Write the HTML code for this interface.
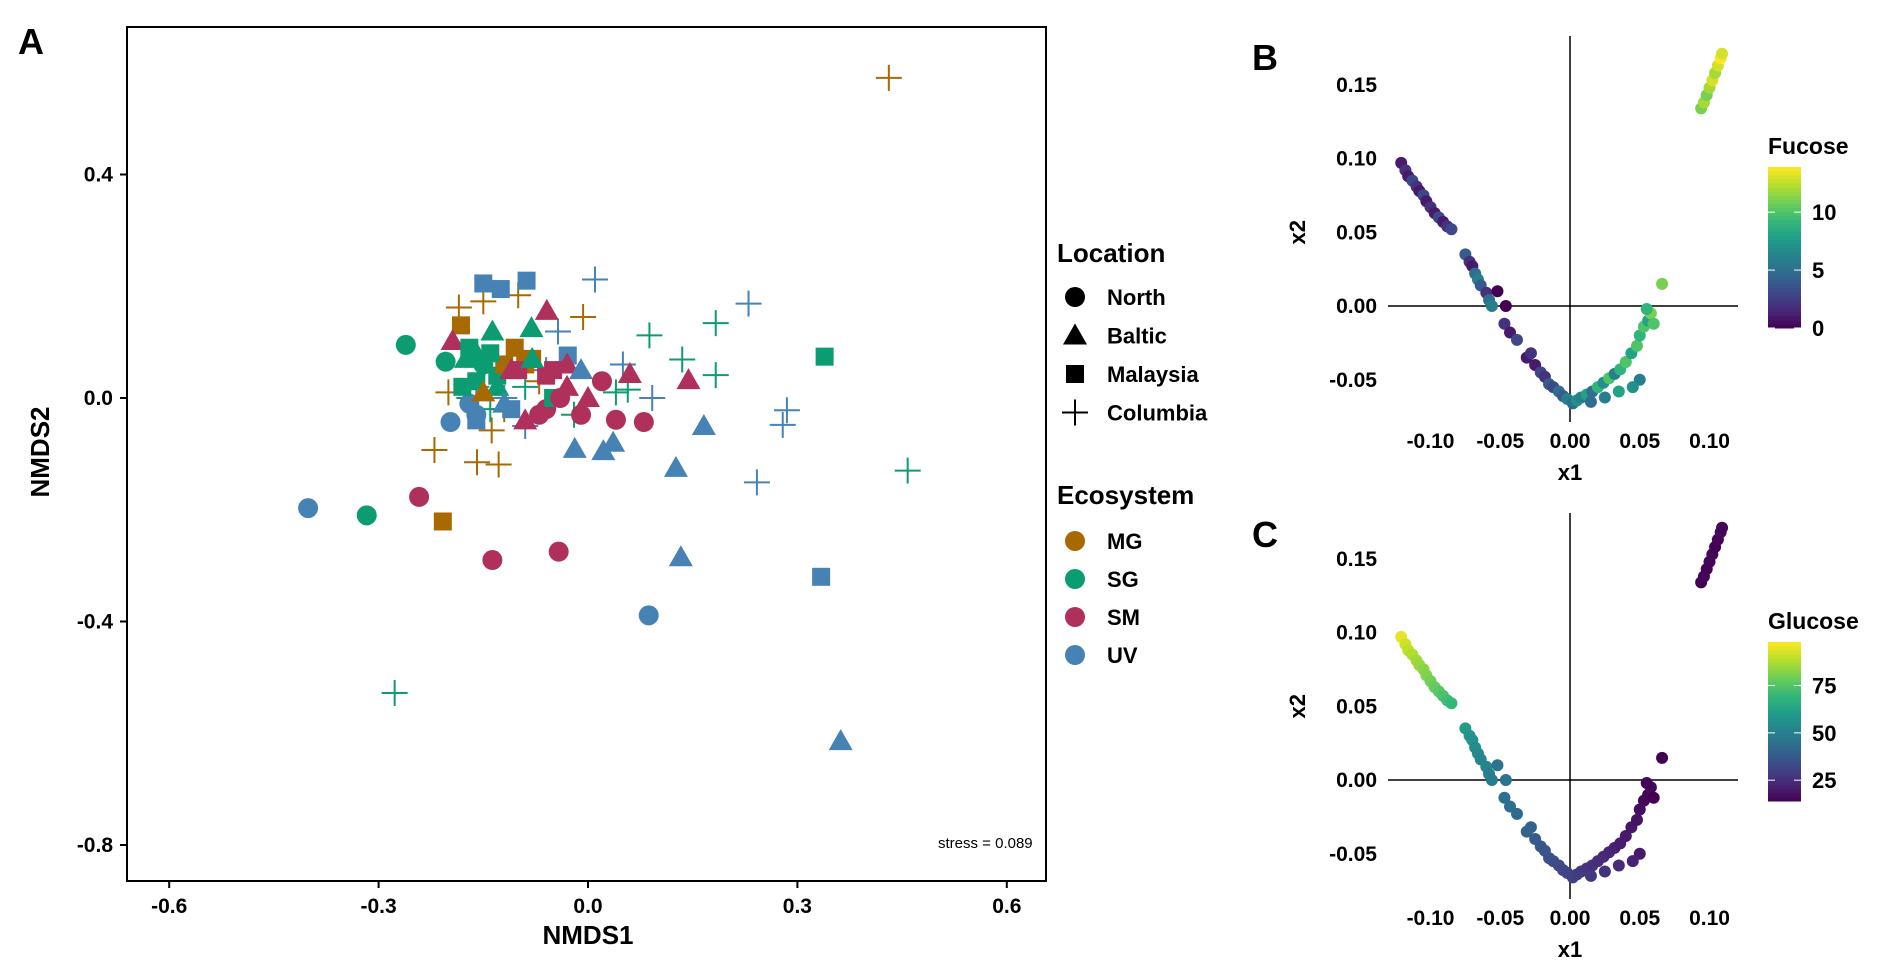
<!DOCTYPE html>
<html><head><meta charset="utf-8"><style>
body{margin:0;background:#fff;}
svg{display:block;font-family:"Liberation Sans",Arial,sans-serif;}
.t{font-weight:bold;fill:#000;}
</style></head><body>
<svg id="s" width="1892" height="974" viewBox="0 0 1892 974">
<g id="pa"></g>
<g id="pb"></g>
<g id="pc"></g>
</svg>
<script>
// Panel A data: [NMDS1, NMDS2, location, ecosystem]
const nmdsX = [0.431,-0.22,-0.159,-0.128,-0.138,-0.007,-0.185,-0.15,-0.10,-0.2,-0.07,-0.12,
 -0.277,0.458,0.183,0.183,0.088,0.135,0.057,0.04,-0.02,-0.09,-0.14,-0.17,
 0.23,0.01,0.285,0.279,0.242,0.092,-0.043,0.05,-0.09,-0.06,-0.12,-0.16,
 -0.401,0.087,-0.197,-0.317,-0.261,-0.204,-0.242,-0.137,-0.042,0.08,0.04,-0.01,-0.16,-0.17,-0.06,
 -0.208,-0.182,-0.105,-0.08,0.339,-0.05,-0.13,-0.16,0.334,-0.15,-0.125,-0.088,-0.029,-0.12,-0.16,
 0.362,0.133,0.126,0.166,-0.019,0.022,0.036,0.144,0.06,-0.059,-0.194,-0.03,-0.11,-0.081,-0.137,-0.16,-0.175,
 -0.09,-0.06,-0.03,0.0,0.02,-0.10,-0.13,-0.15,-0.18,-0.11,-0.07,-0.04,-0.09,-0.14,-0.12,-0.05,-0.01,-0.17,-0.15,-0.08,-0.06];
const nmdsY = [0.573,-0.093,-0.115,-0.119,-0.058,0.145,0.162,0.173,0.184,0.01,0.03,-0.02,
 -0.528,-0.13,0.134,0.041,0.112,0.069,0.015,0.01,-0.03,0.02,-0.02,0.0,
 0.169,0.212,-0.022,-0.048,-0.151,0.0,0.119,0.06,-0.05,0.05,0.0,0.02,
 -0.197,-0.389,-0.043,-0.21,0.095,0.065,-0.177,-0.29,-0.275,-0.043,-0.039,-0.03,-0.03,-0.01,-0.02,
 -0.221,0.13,0.09,0.07,0.074,0.0,0.04,0.03,-0.32,0.205,0.195,0.21,0.076,0.06,-0.04,
 -0.614,-0.285,-0.125,-0.05,-0.091,-0.095,-0.08,0.032,0.043,0.156,0.102,0.06,0.05,0.125,0.119,0.08,0.07,
 0.06,0.04,0.02,0.0,0.03,0.05,0.02,0.06,0.02,-0.02,-0.03,0.0,-0.04,0.08,-0.01,0.05,0.05,0.09,0.01,0.07];
const nmdsLoc = ["Columbia","Columbia","Columbia","Columbia","Columbia","Columbia","Columbia","Columbia","Columbia","Columbia","Columbia","Columbia",
 "Columbia","Columbia","Columbia","Columbia","Columbia","Columbia","Columbia","Columbia","Columbia","Columbia","Columbia","Columbia",
 "Columbia","Columbia","Columbia","Columbia","Columbia","Columbia","Columbia","Columbia","Columbia","Columbia","Columbia","Columbia",
 "North","North","North","North","North","North","North","North","North","North","North","North","North","North","North",
 "Malaysia","Malaysia","Malaysia","Malaysia","Malaysia","Malaysia","Malaysia","Malaysia","Malaysia","Malaysia","Malaysia","Malaysia","Malaysia","Malaysia","Malaysia",
 "Baltic","Baltic","Baltic","Baltic","Baltic","Baltic","Baltic","Baltic","Baltic","Baltic","Baltic","Baltic","Baltic","Baltic","Baltic","Baltic","Baltic",
 "Malaysia","Malaysia","Baltic","Baltic","North","Malaysia","Baltic","North","Malaysia","Malaysia","North","North","Baltic","Malaysia","Baltic","Malaysia","Baltic","Malaysia","Baltic","Baltic"];
const nmdsEco = ["MG","MG","MG","MG","MG","MG","MG","MG","MG","MG","MG","MG",
 "SG","SG","SG","SG","SG","SG","SG","SG","SG","SG","SG","SG",
 "UV","UV","UV","UV","UV","UV","UV","UV","UV","UV","UV","UV",
 "UV","UV","UV","SG","SG","SG","SM","SM","SM","SM","SM","SM","UV","UV","SM",
 "MG","MG","MG","MG","SG","SG","SG","SG","UV","UV","UV","UV","UV","MG","UV",
 "UV","UV","UV","UV","UV","UV","UV","SM","SM","SM","SM","SM","SM","SG","SG","SG","SG",
 "MG","SM","SM","SM","SM","SM","SG","SG","SG","UV","SM","SM","SM","SG","UV","SM","UV","SG","MG","SG"];
const xTicksA = [-0.6,-0.3,0.0,0.3,0.6];
const yTicksA = [0.4,0.0,-0.4,-0.8];

// Panels B/C data
const x1 = [-0.121,-0.118,-0.116,-0.113,-0.110,-0.108,-0.105,-0.103,-0.100,-0.097,-0.094,-0.091,-0.088,-0.085,
 -0.075,-0.072,-0.070,-0.068,-0.066,-0.064,-0.060,-0.058,-0.056,-0.052,-0.046,-0.047,-0.043,-0.038,
 -0.031,-0.028,-0.025,-0.021,-0.018,-0.015,-0.012,-0.008,-0.005,-0.002,0.002,0.005,0.008,0.012,0.016,0.020,0.024,0.028,0.032,0.036,0.040,0.044,0.048,0.050,0.053,0.056,0.058,0.060,0.055,0.050,0.045,0.035,0.025,0.015,
 0.066,0.094,0.096,0.098,0.100,0.102,0.104,0.106,0.108,0.109];
const x2 = [0.097,0.092,0.088,0.085,0.081,0.078,0.075,0.071,0.067,0.063,0.060,0.057,0.054,0.052,
 0.035,0.030,0.027,0.022,0.018,0.014,0.009,0.004,0.000,0.010,0.000,-0.012,-0.018,-0.023,
 -0.035,-0.032,-0.040,-0.045,-0.048,-0.053,-0.055,-0.058,-0.061,-0.063,-0.066,-0.064,-0.062,-0.060,-0.058,-0.055,-0.052,-0.049,-0.046,-0.043,-0.038,-0.032,-0.027,-0.020,-0.014,-0.010,-0.005,-0.012,-0.002,-0.050,-0.055,-0.058,-0.062,-0.065,
 0.015,0.134,0.138,0.143,0.148,0.153,0.158,0.163,0.168,0.171];
const fucose = [1,2,1,3,2,1,3,1,2,1,3,1,2,3, 4,2,1,5,6,4,2,5,6,0,0,2,1,3,
 1,2,1,3,2,4,3,5,4,6,5,7,6,8,5,9,7,10,6,9,10,8,10,9,10,8,11,10,9,6,7,8,6,5,
 11,11,12,11,12,13,12,13,14,13];
const glucose = [95,92,90,88,86,85,83,82,80,78,76,74,72,70, 60,58,57,55,54,53,52,50,49,47,46,45,44,43,
 40,41,38,37,36,35,34,33,32,31,30,29,28,27,26,25,24,23,22,21,20,19,18,17,16,15,16,14,15,20,22,24,26,28,
 14,14,15,13,15,16,14,15,16,15];
const xTicksBC = [-0.10,-0.05,0.00,0.05,0.10];
const xTickLabelsBC = ["-0.10","-0.05","0.00","0.05","0.10"];
const yTicksBC = [0.15,0.10,0.05,0.00,-0.05];
const yTickLabelsBC = ["0.15","0.10","0.05","0.00","-0.05"];
const fucTicks = [0,5,10];
const gluTicks = [25,50,75];

const NS="http://www.w3.org/2000/svg";
function mk(p,tag,at,txt){const e=document.createElementNS(NS,tag);for(const k in at)e.setAttribute(k,at[k]);if(txt!==undefined)e.textContent=txt;p.appendChild(e);return e;}
const COL={MG:"#a86a00",SG:"#0b9c72",SM:"#b0305c",UV:"#4682b4"};

// Panel A
const pa=document.getElementById('pa');
const ax=v=>588+v*698, ay=v=>398-v*558.75;
function marker(g,loc,cx,cy,c){
  let e;
  if(loc==="North"){e=mk(g,'circle',{cx:cx,cy:cy,r:10,fill:c});}
  else if(loc==="Baltic"){e=mk(g,'polygon',{points:`${cx},${cy-12} ${cx+12},${cy+9} ${cx-12},${cy+9}`,fill:c});}
  else if(loc==="Malaysia"){e=mk(g,'rect',{x:cx-9,y:cy-9,width:18,height:18,fill:c});}
  else {e=mk(g,'path',{d:`M${cx-13},${cy}H${cx+13}M${cx},${cy-13}V${cy+13}`,stroke:c,'stroke-width':2,fill:'none'});}
  return e;
}
const gA=mk(pa,'g',{});


for(let i=0;i<nmdsX.length;i++){
  const e=marker(gA,nmdsLoc[i],ax(nmdsX[i]),ay(nmdsY[i]),COL[nmdsEco[i]]);
  
  
}
const fr=mk(pa,'rect',{x:127,y:27,width:919,height:854,fill:'none',stroke:'#000','stroke-width':2});


xTicksA.forEach(v=>{mk(pa,'line',{x1:ax(v),x2:ax(v),y1:881,y2:888,stroke:'#000','stroke-width':2});
  const t=mk(pa,'text',{x:ax(v),y:913,'text-anchor':'middle','font-size':21,class:'t'},v.toFixed(1));
  
  });
yTicksA.forEach(v=>{mk(pa,'line',{x1:120,x2:127,y1:ay(v),y2:ay(v),stroke:'#000','stroke-width':2});
  const t=mk(pa,'text',{x:113,y:ay(v)+7,'text-anchor':'end','font-size':21,class:'t'},v.toFixed(1));
  
  });
let t=mk(pa,'text',{x:588,y:944,'text-anchor':'middle','font-size':26,class:'t'},'NMDS1');

t=mk(pa,'text',{x:0,y:0,transform:'translate(49,452) rotate(-90)','text-anchor':'middle','font-size':26,class:'t'},'NMDS2');

t=mk(pa,'text',{x:938,y:848,'font-size':15,fill:'#000'},'stress = 0.089');

t=mk(pa,'text',{x:18,y:54,'font-size':36,class:'t'},'A');

// Legend
t=mk(pa,'text',{x:1057,y:262,'font-size':26,class:'t'},'Location');

["North","Baltic","Malaysia","Columbia"].forEach((l,i)=>{const y=297+i*38.5;
  const g=mk(pa,'g',{});
  marker(g,l,1075,y,'#000');mk(g,'text',{x:1107,y:y+8,'font-size':22,class:'t'},l);});
t=mk(pa,'text',{x:1057,y:504,'font-size':26,class:'t'},'Ecosystem');

["MG","SG","SM","UV"].forEach((l,i)=>{const y=541+i*38;
  const g=mk(pa,'g',{});
  mk(g,'circle',{cx:1075,cy:y,r:10,fill:COL[l]});mk(g,'text',{x:1107,y:y+8,'font-size':22,class:'t'},l);});

// viridis
const VIR=["#440154","#482878","#3e4989","#31688e","#26828e","#1f9e89","#35b779","#6ece58","#b5de2b","#fde725"];
function vir(f){f=Math.max(0,Math.min(1,f));const p=f*9,i=Math.min(8,Math.floor(p)),r=p-i;
  const a=VIR[i],b=VIR[i+1];const h=(s,k)=>parseInt(s.substr(1+k*2,2),16);
  let o='#';for(let k=0;k<3;k++)o+=Math.round(h(a,k)+(h(b,k)-h(a,k))*r).toString(16).padStart(2,'0');return o;}

function panel(g,top,zeroY,vals,vmin,vmax,cbTop,cbBot,ticks,title,letter){
  const bx=v=>1570+v*1395, by=v=>zeroY-v*1475;
  const bot=top+386;
  let e=mk(g,'line',{x1:1570,x2:1570,y1:top,y2:bot,stroke:'#000','stroke-width':1.5});
  
  e=mk(g,'line',{x1:1388,x2:1738,y1:zeroY,y2:zeroY,stroke:'#000','stroke-width':1.5});
  
  for(let i=0;i<x1.length;i++){
    const c=mk(g,'circle',{cx:bx(x1[i]),cy:by(x2[i]),r:6,fill:vir((vals[i]-vmin)/(vmax-vmin))});
    
    
  }
  xTicksBC.forEach((v,i)=>{const t=mk(g,'text',{x:bx(v),y:bot+26,'text-anchor':'middle','font-size':21,class:'t'},xTickLabelsBC[i]);
    });
  yTicksBC.forEach((v,i)=>{const t=mk(g,'text',{x:1377,y:by(v)+7,'text-anchor':'end','font-size':21,class:'t'},yTickLabelsBC[i]);
    });
  e=mk(g,'text',{x:1570,y:bot+58,'text-anchor':'middle','font-size':22,class:'t'},'x1');
  
  e=mk(g,'text',{x:0,y:0,transform:`translate(1305,${by(0.05)}) rotate(-90)`,'text-anchor':'middle','font-size':22,class:'t'},'x2');
  
  e=mk(g,'text',{x:1252,y:top+34,'font-size':36,class:'t'},letter);
  
  // colorbar
  const cb=mk(g,'g',{});
  const n=40,h=(cbBot-cbTop)/n;
  for(let k=0;k<n;k++)mk(cb,'rect',{x:1768,y:cbBot-(k+1)*h,width:33,height:h+0.5,fill:vir((k+0.5)/n)});
  const cy=v=>cbBot-(v-vmin)/(vmax-vmin)*(cbBot-cbTop);
  ticks.forEach(v=>{mk(cb,'line',{x1:1768,x2:1775,y1:cy(v),y2:cy(v),stroke:'#fff','stroke-width':1});
    mk(cb,'line',{x1:1794,x2:1801,y1:cy(v),y2:cy(v),stroke:'#fff','stroke-width':1});
    mk(cb,'text',{x:1812,y:cy(v)+8,'font-size':22,class:'t'},String(v));});
  e=mk(g,'text',{x:1768,y:cbTop-13,'font-size':23,class:'t'},title);
  
}
panel(document.getElementById('pb'),36,306,fucose,0,13.9,167,328,fucTicks,'Fucose','B');
panel(document.getElementById('pc'),513,780,glucose,14,98,642,801,gluTicks,'Glucose','C');
</script>
</body></html>
